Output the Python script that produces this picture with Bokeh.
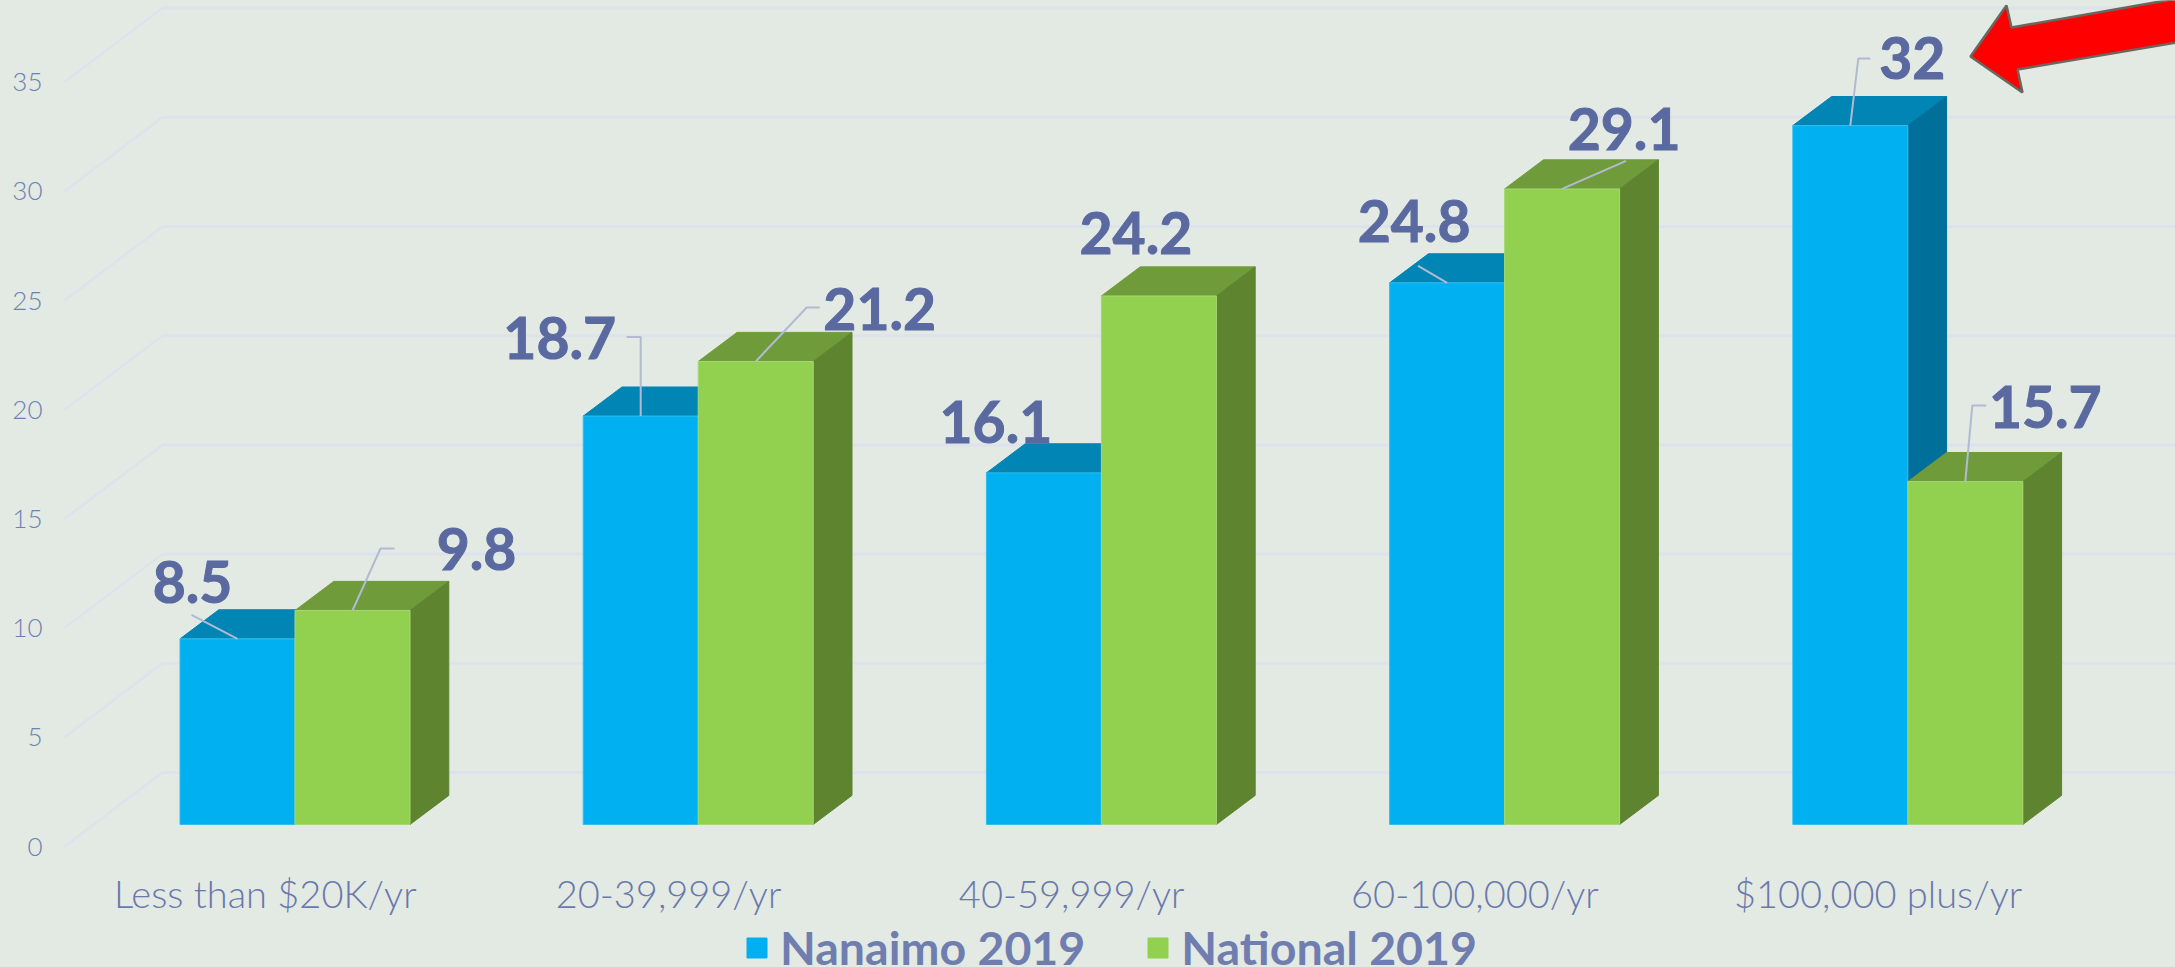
from bokeh.plotting import figure
from bokeh.layouts import column
from bokeh.models import Range1d, LinearAxis, FixedTicker, Legend, LegendItem
from bokeh.embed import file_html
from bokeh.resources import INLINE
from bokeh.core.properties import value

categories = ["Less than $20K/yr", "20-39,999/yr", "40-59,999/yr", "60-100,000/yr", "$100,000 plus/yr"]
nanaimo = [8.5, 18.7, 16.1, 24.8, 32]
national = [9.8, 21.2, 24.2, 29.1, 15.7]
y_ticks = [0, 5, 10, 15, 20, 25, 30, 35]

BG = "#E2EAE3"
W, H = 2175, 967
L = 46
H1 = 924
FH = 860
XU, YU = 403.2, 21.84          # px per category, px per value
X0, Y0 = 294.5, 824.0          # px of first group centre, px of value 0 on the bars' front plane
AX0 = 846.0                    # px of value 0 on the wall's front edge

x_start, x_end = (L - X0) / XU, (W - X0) / XU
y_end, y_start = Y0 / YU, (Y0 - FH) / YU
CAT_SHIFT = 29.7 / XU

p = figure(width=W, height=H1, output_backend="svg", toolbar_location=None,
           x_range=Range1d(x_start, x_end), y_range=Range1d(y_start, y_end),
           min_border_left=L, min_border_right=0, min_border_top=0, min_border_bottom=H1 - FH,
           background_fill_color=BG, border_fill_color=BG, outline_line_color=None)
p.extra_y_ranges["axis"] = Range1d((AX0 - FH) / YU, AX0 / YU)
p.extra_x_ranges["cat"] = Range1d(x_start + CAT_SHIFT, x_end + CAT_SHIFT)
p.xaxis.visible = False
p.yaxis.visible = False
p.grid.visible = False

yax = LinearAxis(y_range_name="axis", ticker=FixedTicker(ticks=y_ticks))
yax.axis_line_color = None
yax.major_tick_line_color = None
yax.minor_tick_line_color = None
yax.major_label_text_color = "#7080B0"
yax.major_label_text_font = "Lato Light"
yax.major_label_text_font_size = "26px"
yax.major_label_standoff = -2
p.add_layout(yax, "left")

xax = LinearAxis(x_range_name="cat", ticker=FixedTicker(ticks=list(range(len(categories)))),
                 major_label_overrides={i: c for i, c in enumerate(categories)})
xax.axis_line_color = None
xax.major_tick_line_color = None
xax.minor_tick_line_color = None
xax.major_label_text_color = "#6A78AC"
xax.major_label_text_font = "Lato Light"
xax.major_label_text_font_size = "38px"
xax.major_label_standoff = 3
p.add_layout(xax, "below")

# walls and back grid
WALL_DX, WALL_DY = 98 / XU, 74 / YU
WALL_X = (64 - X0) / XU
GRID = "#DDE2EC"
p.multi_line([[WALL_X, WALL_X + WALL_DX] for _ in y_ticks], [[t, t + WALL_DY] for t in y_ticks],
             y_range_name="axis", line_color=GRID, line_width=2.5)
p.multi_line([[WALL_X + WALL_DX, x_end] for _ in y_ticks], [[t + WALL_DY, t + WALL_DY] for t in y_ticks],
             y_range_name="axis", line_color=GRID, line_width=3)

HALF = 115 / XU
DX, DY = 38.8 / XU, 29.1 / YU
idx = list(range(len(categories)))

def series(vals, left, right, front, top, side, edge):
    p.patches([[i + left, i + left + DX, i + right + DX, i + right] for i in idx],
              [[v, v + DY, v + DY, v] for v in vals], fill_color=top, line_color=top, line_width=1)
    p.patches([[i + right, i + right + DX, i + right + DX, i + right] for i in idx],
              [[0, DY, v + DY, v] for v in vals], fill_color=side, line_color=side, line_width=1)
    return p.quad(left=[i + left for i in idx], right=[i + right for i in idx], bottom=[0] * len(idx), top=vals,
                  fill_color=front, line_color=edge, line_width=1)

series(nanaimo, -HALF, 0, "#00B0F0", "#0085B5", "#00709A", "#35BEEC")
series(national, 0, HALF, "#92D050", "#6F9B3B", "#5F8430", "#A5D874")

# leader lines (px offsets from the top centre of each bar) and label offsets
LEAD = [
    ("n", 0, [(0, 0), (-46, -24)]),
    ("g", 0, [(0, 0), (28, -62), (42, -62)]),
    ("n", 1, [(0, 0), (0, -79), (-14, -79)]),
    ("g", 1, [(0, 0), (51, -54), (64, -54)]),
    ("n", 3, [(0, 0), (-29, -17)]),
    ("g", 3, [(0, 0), (64, -28)]),
    ("n", 4, [(0, 0), (8, -67), (20, -67)]),
    ("g", 4, [(0, 0), (7, -76), (21, -76)]),
]
lx, ly = [], []
for s, i, pts in LEAD:
    cx = i + (-HALF / 2 if s == "n" else HALF / 2)
    v = nanaimo[i] if s == "n" else national[i]
    lx.append([cx + a / XU for a, _ in pts])
    ly.append([v - b / YU for _, b in pts])
p.multi_line(lx, ly, line_color="#B2BAD3", line_width=2)

n_off = [(-45, -57), (-81, -78), (-48, -51), (-33, -62), (62, -68)]
g_off = [(124, -61), (124, -52), (-23, -63), (62, -60), (80, -75)]
tx, ty, tt, ox, oy = [], [], [], [], []
for vals, sign, offs in ((nanaimo, -1, n_off), (national, 1, g_off)):
    for i, v in enumerate(vals):
        tx.append(i + sign * HALF / 2)
        ty.append(v)
        tt.append(f"{v}")
        ox.append(offs[i][0])
        oy.append(offs[i][1])
p.text(tx, ty, text=tt, x_offset=ox, y_offset=oy, text_align="center", text_baseline="middle",
       text_font=value("Lato"), text_font_style="bold", text_font_size="57px", text_color="#5A6AA0",
       text_outline_color="#5A6AA0")

# red call-out arrow
def ax(px): return (px - X0) / XU
def ay(py): return (Y0 - py) / YU
arrow_px = [(1970, 56), (2006, 5), (2011, 27), (2200, -6), (2200, 38), (2017, 69), (2022, 92)]
p.patch([ax(a) for a, _ in arrow_px], [ay(b) for _, b in arrow_px],
        fill_color="#FF0000", line_color="#6B665F", line_width=2.5)

# legend strip (its swatch glyphs lie outside the strip's ranges; only the legend shows them)
q = figure(width=W, height=H - H1, output_backend="svg", toolbar_location=None,
           x_range=Range1d(0, 1), y_range=Range1d(0, 1), min_border=0,
           background_fill_color=BG, border_fill_color=BG, outline_line_color=None)
q.xaxis.visible = False
q.yaxis.visible = False
q.grid.visible = False
k1 = q.quad(left=[2], right=[3], bottom=[2], top=[3], fill_color="#00B0F0", line_color="#00B0F0")
k2 = q.quad(left=[2], right=[3], bottom=[2], top=[3], fill_color="#92D050", line_color="#92D050")
legend = Legend(items=[LegendItem(label="Nanaimo 2019", renderers=[k1]),
                       LegendItem(label="National 2019", renderers=[k2])],
                orientation="horizontal", location=(698, -8),
                background_fill_alpha=0, border_line_color=None, padding=0, margin=0, spacing=60,
                glyph_width=25, glyph_height=25, label_standoff=11,
                label_text_font="Lato", label_text_font_style="bold",
                label_text_font_size="46.5px", label_text_color="#707DAF")
q.add_layout(legend, "center")

root = column(p, q, spacing=0)
html = file_html(root, INLINE)
html = html.replace("<head>", "<head><style>html,body{margin:0;padding:0;background:" + BG + ";overflow:hidden}</style>", 1)
open("out.html", "w").write(html)
